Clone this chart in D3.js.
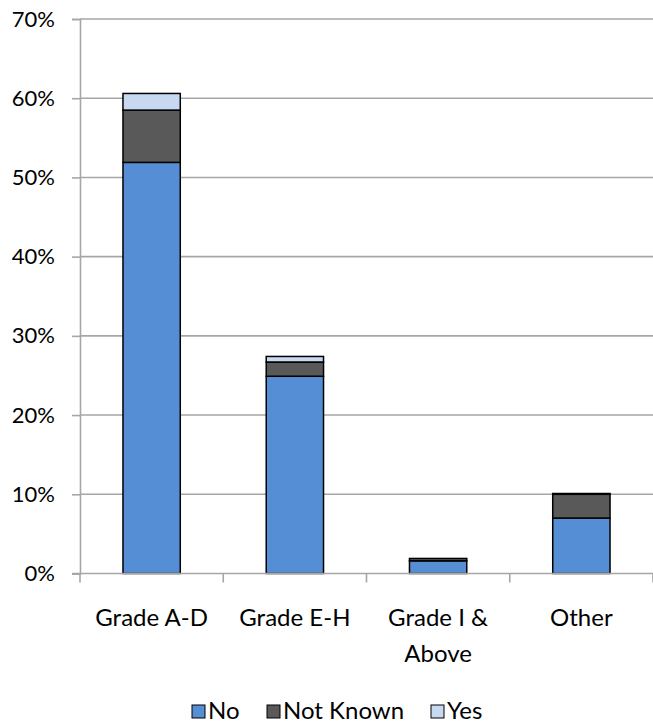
<!DOCTYPE html>
<html>
<head>
<meta charset="utf-8">
<script src="https://cdn.jsdelivr.net/npm/d3@7"></script>
<style>
  html, body { margin: 0; padding: 0; background: #fff; }
  svg { display: block; }
  text { font-family: Lato, "Open Sans", sans-serif; fill: #000; }
</style>
</head>
<body>
<div id="chart"></div>
<script>
// Share of staff by grade, split by response (percent)
const categories = ["Grade A-D", "Grade E-H", "Grade I & Above", "Other"];
const seriesNames = ["No", "Not Known", "Yes"];
const noValues = [51.9, 24.9, 1.6, 7.0];
const notKnownValues = [6.6, 1.8, 0.3, 3.0];
const yesValues = [2.1, 0.7, 0.0, 0.1];
const yTicks = [0, 10, 20, 30, 40, 50, 60, 70];
const colors = ["#558ED5", "#595959", "#C6D9F1"];

const W = 653, H = 724;
const margin = { left: 80, right: 0, top: 19, bottom: 150 };
const FONT = 24;
const TICK_FONT = 22;

const rows = categories.map((c, i) => ({
  category: c,
  "No": noValues[i],
  "Not Known": notKnownValues[i],
  "Yes": yesValues[i]
}));

const svg = d3.select("#chart").append("svg")
  .attr("width", W).attr("height", H);

const x = d3.scaleBand()
  .domain(categories)
  .range([margin.left, W - margin.right])
  .paddingInner(0.6)
  .paddingOuter(0.3);

const y = d3.scaleLinear()
  .domain([0, 70])
  .range([H - margin.bottom - 0.5, margin.top]);

// gridlines
svg.append("g")
  .selectAll("line")
  .data(yTicks.filter(t => t > 0))
  .join("line")
  .attr("x1", margin.left).attr("x2", W)
  .attr("y1", d => y(d)).attr("y2", d => y(d))
  .attr("stroke", "#a6a6a6").attr("stroke-width", 1.6);

// y axis
const yAxis = d3.axisLeft(y)
  .tickValues(yTicks)
  .tickFormat(d => d + "%")
  .tickSize(8)
  .tickPadding(17);
const gy = svg.append("g")
  .attr("transform", `translate(${margin.left},0)`)
  .call(yAxis);
gy.select(".domain").attr("stroke", "#a6a6a6").attr("stroke-width", 1.6);
gy.selectAll(".tick line").attr("stroke", "#a6a6a6").attr("stroke-width", 1.6);
gy.selectAll(".tick text").attr("font-size", TICK_FONT).attr("fill", "#000")
  .style("font-family", "Lato, 'Open Sans', sans-serif");

// stacked bars
const stacked = d3.stack().keys(seriesNames)(rows);

svg.append("g")
  .selectAll("g")
  .data(stacked)
  .join("g")
  .attr("fill", (d, i) => colors[i])
  .selectAll("rect")
  .data(d => d.filter(p => p[1] - p[0] > 0))
  .join("rect")
  .attr("x", d => x(d.data.category))
  .attr("width", x.bandwidth())
  .attr("y", d => y(d[1]))
  .attr("height", d => y(d[0]) - y(d[1]))
  .attr("stroke", "#000")
  .attr("stroke-width", 1.5);

// x axis line and category separators
const gx = svg.append("g")
  .attr("transform", `translate(0,${y(0)})`);
gx.append("line")
  .attr("x1", margin.left - 8).attr("x2", W)
  .attr("y1", 0).attr("y2", 0)
  .attr("stroke", "#a6a6a6").attr("stroke-width", 1.6);
const bandEdges = [margin.left].concat(categories.map((c, i) =>
  margin.left + (i + 1) * (W - margin.left - margin.right) / categories.length));
gx.selectAll("line.sep")
  .data(bandEdges)
  .join("line")
  .attr("class", "sep")
  .attr("x1", d => d).attr("x2", d => d)
  .attr("y1", 0).attr("y2", 9)
  .attr("stroke", "#a6a6a6").attr("stroke-width", 1.6);

// category labels (wrapped onto two lines where needed)
const labelLines = { "Grade I & Above": ["Grade I &", "Above"] };
gx.selectAll("text.cat")
  .data(categories)
  .join("text")
  .attr("class", "cat")
  .attr("text-anchor", "middle")
  .attr("font-size", FONT)
  .each(function(d) {
    const lines = labelLines[d] || [d];
    const t = d3.select(this);
    lines.forEach((ln, k) => {
      t.append("tspan")
        .attr("x", x(d) + x.bandwidth() / 2)
        .attr("y", 52 + k * 36)
        .text(ln);
    });
  });

// legend
const legendItems = [
  { name: "No", x: 192 },
  { name: "Not Known", x: 267 },
  { name: "Yes", x: 431 }
];
const li = svg.append("g")
  .selectAll("g")
  .data(legendItems)
  .join("g")
  .attr("transform", d => `translate(${d.x},705)`);
li.append("rect")
  .attr("width", 13).attr("height", 13)
  .attr("fill", (d, i) => colors[i])
  .attr("stroke", "#000").attr("stroke-width", 1);
li.append("text")
  .attr("x", 16).attr("y", 13.5)
  .attr("font-size", FONT)
  .text(d => d.name);
</script>
</body>
</html>
